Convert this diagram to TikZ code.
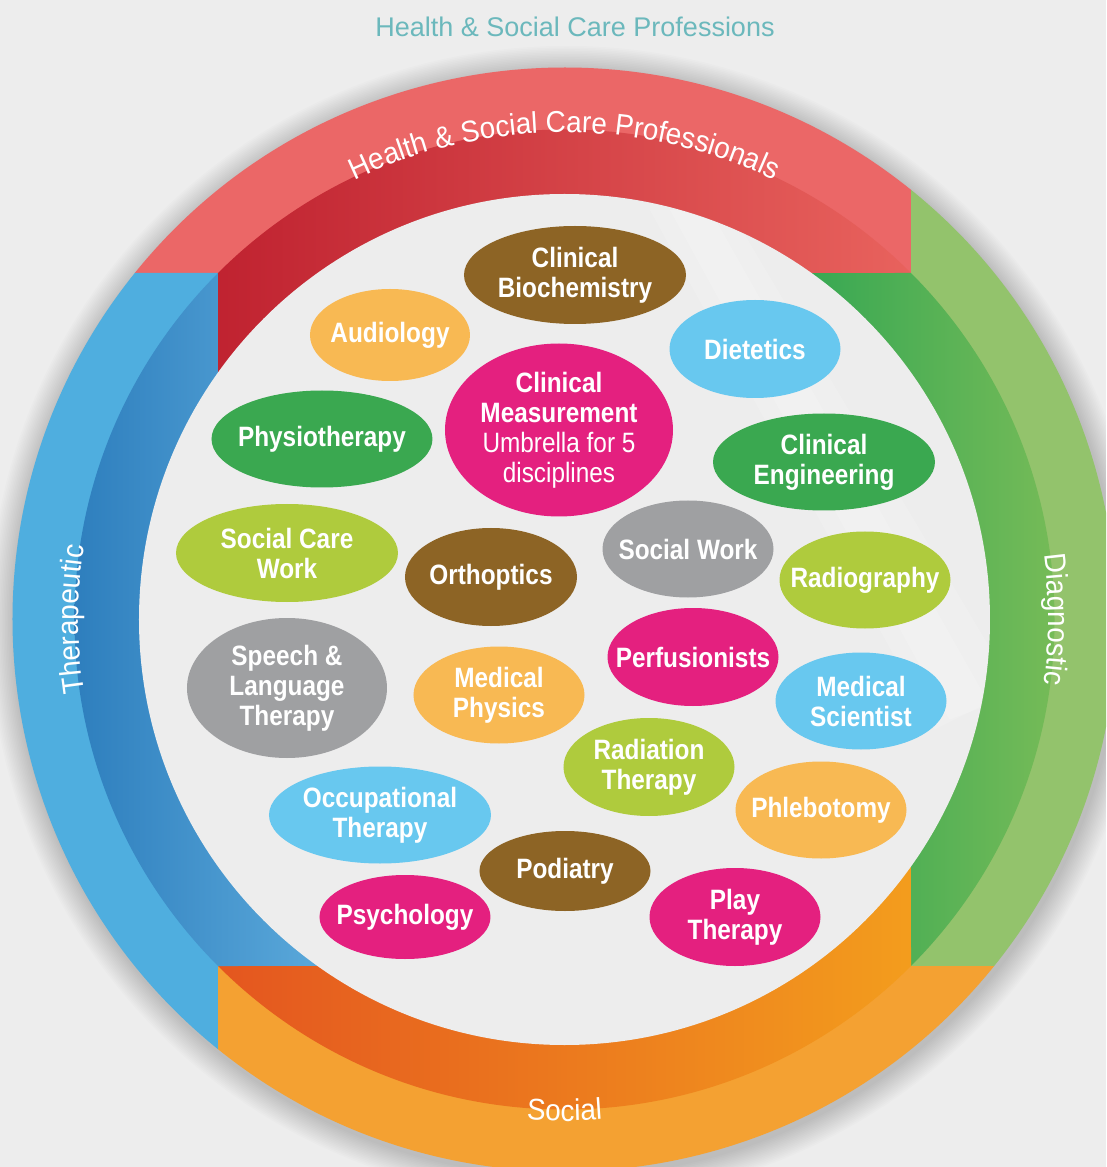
\documentclass[tikz,border=0pt]{standalone}
\usepackage{fontspec}
\setmainfont{Liberation Sans}
\newfontfamily\condfont[FakeStretch=0.87]{Liberation Sans}
\newfontfamily\ringfont[FakeStretch=0.93]{Liberation Sans}
\usetikzlibrary{shapes.geometric}

\definecolor{bgc}{HTML}{EDEDED}
\definecolor{rimc}{HTML}{C6C6C6}
\definecolor{titlec}{HTML}{6BB8BC}
\definecolor{redL}{HTML}{EB6767}
\definecolor{redDl}{HTML}{BB1B2B}
\definecolor{redDr}{HTML}{E8625D}
\definecolor{greenL}{HTML}{93C36C}
\definecolor{greenDl}{HTML}{38A853}
\definecolor{greenDr}{HTML}{96C55A}
\definecolor{orangeL}{HTML}{F4A132}
\definecolor{orangeDl}{HTML}{E4561F}
\definecolor{orangeDr}{HTML}{F5A51D}
\definecolor{blueL}{HTML}{4FAEDF}
\definecolor{blueDl}{HTML}{1668AE}
\definecolor{blueDr}{HTML}{5AA8DA}
\definecolor{cBrown}{HTML}{8D6425}
\definecolor{cYellow}{HTML}{F8B953}
\definecolor{cSky}{HTML}{68C8EF}
\definecolor{cMagenta}{HTML}{E4207F}
\definecolor{cGreen}{HTML}{3AA850}
\definecolor{cLime}{HTML}{AFCB3D}
\definecolor{cGray}{HTML}{9FA0A2}

\pgfdeclareradialshading{discshade}{\pgfpoint{0bp}{0bp}}{color(0bp)=(bgc); color(45.5bp)=(bgc); color(50bp)=(rimc)}

\tikzset{
  blob/.style={ellipse, draw=none, inner sep=0pt},
  lbl/.style={text=white, align=center, inner sep=0pt,
    font=\condfont\bfseries\fontsize{28}{30}\selectfont},
  ringchar/.style={anchor=base, inner sep=0pt, outer sep=0pt}
}
\newcommand\blob[7]{%
  \node[blob, fill=#6, minimum width=#4pt, minimum height=#5pt] (#1) at (#2,#3) {};
  \node[lbl] (#1t) at (#1.center) {#7};}
\newcommand\rfmt{\ringfont\fontsize{30}{36}\selectfont\color{white}}

\newdimen\arctot \newdimen\arcpos \newdimen\arccw
% measure the characters (outside the picture)
\newcommand\measurearc[2]{%
  \global\arctot=0pt
  \foreach \c [count=\i] in {#2}{%
    \setbox0=\hbox{\rfmt\c}%
    \expandafter\xdef\csname aw#1\i\endcsname{\the\wd0}%
    \global\advance\arctot by \wd0\relax}%
  \expandafter\xdef\csname at#1\endcsname{\the\arctot}%
}
% #1 radius, #2 centre angle, #3 +1 outward / -1 inward, #4 characters, #5 name prefix
\newcommand\arctext[5]{%
  \global\arctot=\csname at#5\endcsname\relax
  \global\arcpos=0pt
  \foreach \c [count=\i] in {#4}{%
    \global\arccw=\csname aw#5\i\endcsname\relax
    \pgfmathsetmacro\ang{#2+(#3)*(0.5*\arctot-\arcpos-0.5*\arccw)/(#1)*57.29578}%
    \pgfmathsetmacro\rot{\ang-(#3)*90}%
    \node[ringchar, rotate=\rot] (#5\i) at (\ang:#1) {\rfmt\c};
    \global\advance\arcpos by \arccw\relax
  }%
}

\begin{document}
\measurearc{hsc}{H,e,a,l,t,h,\ ,\&,\ ,S,o,c,i,a,l,\ ,C,a,r,e,\ ,P,r,o,f,e,s,s,i,o,n,a,l,s}%
\measurearc{diag}{D,i,a,g,n,o,s,t,i,c}%
\measurearc{ther}{T,h,e,r,a,p,e,u,t,i,c}%
\measurearc{soc}{S,o,c,i,a,l}%
\begin{tikzpicture}[x=1pt,y=1pt]
\useasboundingbox (-564.5,-547.5) rectangle (541.5,619.5);
\clip (-564.5,-547.5) rectangle (541.5,619.5);
\fill[bgc] (-564.5,-547.5) rectangle (541.5,619.5);

% soft shadow of the ring
\foreach \k in {1,...,16}{\fill[black,opacity=0.012] (2,-4) circle ({552+1.6*\k});}

% light outer bands
\fill[redL] (141.115:552) arc[start angle=141.115,end angle=51.115,radius=552] -- (346.5,346.5) -- (246.09,346.5) arc[start angle=54.615,end angle=144.615,radius=425] -- (-346.5,346.5) -- cycle;
\fill[greenL] (51.115:552) arc[start angle=51.115,end angle=-38.885,radius=552] -- (346.5,-346.5) -- (346.5,-246.09) arc[start angle=-35.385,end angle=54.615,radius=425] -- (346.5,346.5) -- cycle;
\fill[orangeL] (-38.885:552) arc[start angle=-38.885,end angle=-128.885,radius=552] -- (-346.5,-346.5) -- (-246.09,-346.5) arc[start angle=-125.385,end angle=-35.385,radius=425] -- (346.5,-346.5) -- cycle;
\fill[blueL] (231.115:552) arc[start angle=231.115,end angle=141.115,radius=552] -- (-346.5,346.5) -- (-346.5,246.09) arc[start angle=144.615,end angle=234.615,radius=425] -- (-346.5,-346.5) -- cycle;

% darker inner bands
\begin{scope}
  \clip (0,0) circle (490);
  \shade[left color=redDl, right color=redDr] (141.115:552) arc[start angle=141.115,end angle=51.115,radius=552] -- (346.5,346.5) -- (246.09,346.5) arc[start angle=54.615,end angle=144.615,radius=425] -- (-346.5,346.5) -- cycle;
  \shade[left color=greenDl, right color=greenDr] (51.115:552) arc[start angle=51.115,end angle=-38.885,radius=552] -- (346.5,-346.5) -- (346.5,-246.09) arc[start angle=-35.385,end angle=54.615,radius=425] -- (346.5,346.5) -- cycle;
  \shade[left color=orangeDl, right color=orangeDr] (-38.885:552) arc[start angle=-38.885,end angle=-128.885,radius=552] -- (-346.5,-346.5) -- (-246.09,-346.5) arc[start angle=-125.385,end angle=-35.385,radius=425] -- (346.5,-346.5) -- cycle;
  \shade[left color=blueDl, right color=blueDr] (231.115:552) arc[start angle=231.115,end angle=141.115,radius=552] -- (-346.5,346.5) -- (-346.5,246.09) arc[start angle=144.615,end angle=234.615,radius=425] -- (-346.5,-346.5) -- cycle;
\end{scope}

% inner disc
\shade[shading=discshade] (0,0) circle (425.5);
\begin{scope}
  \clip (0,0) circle (425);
  \fill[white,opacity=0.16] (85.5,409.5) -- (165.5,409.5) -- (450,-70) -- (370,-110) -- cycle;
  \fill[white,opacity=0.16] (105.5,409.5) -- (145.5,409.5) -- (425,-85) -- (385,-100) -- cycle;
\end{scope}

% ring labels
\arctext{487}{90}{1}{H,e,a,l,t,h,\ ,\&,\ ,S,o,c,i,a,l,\ ,C,a,r,e,\ ,P,r,o,f,e,s,s,i,o,n,a,l,s}{hsc}
\arctext{484}{0}{1}{D,i,a,g,n,o,s,t,i,c}{diag}
\arctext{486}{180}{1}{T,h,e,r,a,p,e,u,t,i,c}{ther}
\arctext{501.5}{270}{-1}{S,o,c,i,a,l}{soc}

% title
\node[font=\fontsize{27}{32}\selectfont, text=titlec, inner sep=0pt] (title) at (10.5,592.5) {Health \& Social Care Professions};

% disciplines
\begin{scope}[shift={(-564.5,619.5)},yscale=-1]
\blob{biochem}{575}{275}{222}{98}{cBrown}{Clinical\\Biochemistry}
\blob{audio}{390}{335}{160}{92}{cYellow}{Audiology}
\blob{diet}{755}{349}{171}{98}{cSky}{Dietetics}
\blob{measure}{559}{430}{228}{173}{cMagenta}{Clinical\\Measurement\\\mdseries Umbrella for 5\\\mdseries disciplines}
\blob{physio}{322}{439}{221}{97}{cGreen}{Physiotherapy}
\blob{engin}{824}{462}{222}{97}{cGreen}{Clinical\\Engineering}
\blob{scw}{287}{553}{222}{98}{cLime}{Social Care\\Work}
\blob{ortho}{491}{577}{172}{98}{cBrown}{Orthoptics}
\blob{sw}{688}{549}{171}{97}{cGray}{Social Work}
\blob{radio}{865}{580}{171}{97}{cLime}{Radiography}
\blob{speech}{287}{688}{200}{140}{cGray}{Speech \&\\Language\\Therapy}
\blob{perf}{693}{657}{171}{98}{cMagenta}{Perfusionists}
\blob{medphys}{499}{695}{171}{97}{cYellow}{Medical\\Physics}
\blob{medsci}{861}{701}{171}{97}{cSky}{Medical\\Scientist}
\blob{radther}{649}{767}{171}{98}{cLime}{Radiation\\Therapy}
\blob{occ}{380}{815}{222}{97}{cSky}{Occupational\\Therapy}
\blob{phleb}{821}{810}{171}{97}{cYellow}{Phlebotomy}
\blob{podi}{565}{871}{171}{80}{cBrown}{Podiatry}
\blob{psych}{405}{917}{171}{84}{cMagenta}{Psychology}
\blob{play}{735}{917}{171}{98}{cMagenta}{Play\\Therapy}
\end{scope}
\end{tikzpicture}
\end{document}
